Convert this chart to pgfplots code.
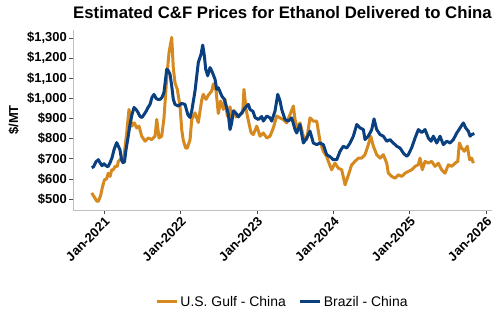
\documentclass[border=0pt]{standalone}
\usepackage{fontspec}
\setmainfont{Liberation Sans}
\usepackage{pgfplots}
\pgfplotsset{compat=1.18}
\definecolor{gulf}{RGB}{214,137,30}
\definecolor{brazil}{RGB}{10,63,128}
\begin{document}
\begin{tikzpicture}
\path[use as bounding box] (-73bp,-120bp) rectangle (427bp,210bp);
\begin{axis}[
  at={(0,0)}, anchor=south west,
  scale only axis, width=419bp, height=180bp,
  xmin=2020.594, xmax=2026.078, ymin=445, ymax=1340,
  axis x line*=bottom, axis y line*=left,
  axis line style={-, draw=black!25, line width=0.9bp},
  tick align=outside, major tick length=4bp,
  tick style={draw=black!70, line width=0.6bp},
  xtick={2021,2022,2023,2024,2025,2026},
  xticklabels={Jan-2021,Jan-2022,Jan-2023,Jan-2024,Jan-2025,Jan-2026},
  ytick={500,600,700,800,900,1000,1100,1200,1300},
  yticklabels={\$500,\$600,\$700,\$800,\$900,\$1{,}000,\$1{,}100,\$1{,}200,\$1{,}300},
  ticklabel style={font=\bfseries\fontsize{13}{15}\selectfont},
  xticklabel style={rotate=45, anchor=north east, inner sep=1.5bp},
  yticklabel style={inner sep=2bp},
  ylabel={\$/MT},
  ylabel style={at={(axis description cs:-0.141,0.5)}, anchor=center, font=\bfseries\fontsize{13}{15}\selectfont},
  title={Estimated C\&F Prices for Ethanol Delivered to China},
  title style={at={(axis description cs:0.5,1)}, anchor=center, yshift=12bp, font=\bfseries\fontsize{16.8}{18}\selectfont},
  legend style={at={(0.5,-0.511)}, anchor=center, draw=none, fill=none, legend columns=2,
    font=\fontsize{14}{16}\selectfont,
    /tikz/every even column/.append style={column sep=11bp}},
  legend image code/.code={\draw[#1] (0bp,0bp) -- (20bp,0bp);},
  line join=round,
]
\addplot[gulf, line width=3bp] coordinates {
(2020.839,530) (2020.863,515) (2020.904,490) (2020.925,488) (2020.954,515) (2020.980,560) (2021.006,595) (2021.033,600) (2021.056,628) (2021.079,612) (2021.101,645) (2021.122,645) (2021.144,662) (2021.174,662) (2021.187,687) (2021.232,703) (2021.253,703) (2021.266,728) (2021.297,828) (2021.327,945) (2021.363,862) (2021.397,878) (2021.428,853) (2021.458,862) (2021.493,812) (2021.537,787) (2021.580,803) (2021.624,795) (2021.668,812) (2021.690,895) (2021.720,803) (2021.755,812) (2021.785,903) (2021.821,1103) (2021.851,1228) (2021.886,1303) (2021.907,1150) (2021.929,1078) (2021.959,1045) (2021.995,962) (2022.017,845) (2022.038,790) (2022.069,753) (2022.090,753) (2022.126,795) (2022.148,895) (2022.191,928) (2022.234,880) (2022.278,990) (2022.299,1020) (2022.335,995) (2022.364,1015) (2022.410,1037) (2022.431,1072) (2022.466,1040) (2022.496,925) (2022.527,987) (2022.562,945) (2022.584,995) (2022.614,912) (2022.649,958) (2022.671,903) (2022.702,940) (2022.728,908) (2022.780,920) (2022.815,928) (2022.832,1045) (2022.859,945) (2022.889,890) (2022.924,830) (2022.954,820) (2022.999,862) (2023.042,812) (2023.085,828) (2023.130,803) (2023.173,812) (2023.216,853) (2023.260,912) (2023.304,903) (2023.347,895) (2023.391,878) (2023.435,920) (2023.478,962) (2023.500,895) (2023.522,853) (2023.565,878) (2023.609,812) (2023.653,795) (2023.696,903) (2023.740,887) (2023.784,887) (2023.827,787) (2023.870,737) (2023.915,710) (2023.936,687) (2023.958,665) (2023.979,645) (2024.022,678) (2024.067,653) (2024.111,645) (2024.155,570) (2024.199,620) (2024.242,670) (2024.285,687) (2024.329,703) (2024.373,703) (2024.416,720) (2024.459,770) (2024.491,812) (2024.525,762) (2024.569,720) (2024.613,703) (2024.656,720) (2024.700,678) (2024.721,628) (2024.766,612) (2024.809,603) (2024.852,620) (2024.896,612) (2024.940,628) (2024.983,637) (2025.027,645) (2025.071,662) (2025.114,670) (2025.136,703) (2025.166,645) (2025.202,687) (2025.245,678) (2025.289,687) (2025.332,662) (2025.376,678) (2025.419,645) (2025.463,628) (2025.507,670) (2025.551,662) (2025.595,678) (2025.630,687) (2025.651,778) (2025.681,753) (2025.716,737) (2025.755,762) (2025.785,695) (2025.812,703) (2025.834,678)
};
\addlegendentry{U.S. Gulf - China}
\addplot[brazil, line width=3bp] coordinates {
(2020.839,655) (2020.863,660) (2020.895,685) (2020.925,695) (2020.948,680) (2020.974,665) (2021.000,675) (2021.026,665) (2021.052,660) (2021.079,680) (2021.105,705) (2021.131,745) (2021.166,780) (2021.190,760) (2021.209,745) (2021.229,695) (2021.249,680) (2021.268,685) (2021.288,745) (2021.314,805) (2021.340,870) (2021.366,920) (2021.393,955) (2021.419,945) (2021.445,930) (2021.471,910) (2021.497,905) (2021.524,920) (2021.550,935) (2021.576,955) (2021.602,970) (2021.628,1005) (2021.654,1020) (2021.681,1000) (2021.707,995) (2021.733,995) (2021.759,1005) (2021.785,1030) (2021.805,1095) (2021.821,1145) (2021.838,1140) (2021.864,1120) (2021.886,1062) (2021.907,995) (2021.929,970) (2021.972,962) (2022.017,975) (2022.060,970) (2022.096,920) (2022.126,905) (2022.148,937) (2022.191,1037) (2022.234,1178) (2022.270,1220) (2022.292,1265) (2022.313,1212) (2022.331,1145) (2022.357,1112) (2022.387,1153) (2022.410,1137) (2022.453,1095) (2022.475,1045) (2022.496,1053) (2022.541,1012) (2022.575,995) (2022.606,953) (2022.627,920) (2022.649,845) (2022.671,878) (2022.692,937) (2022.724,928) (2022.758,908) (2022.802,928) (2022.846,953) (2022.889,970) (2022.911,945) (2022.950,935) (2022.976,905) (2023.020,895) (2023.064,910) (2023.085,887) (2023.130,912) (2023.173,903) (2023.195,887) (2023.238,937) (2023.274,1020) (2023.304,987) (2023.326,945) (2023.369,895) (2023.412,887) (2023.457,903) (2023.500,845) (2023.522,828) (2023.565,870) (2023.609,778) (2023.653,803) (2023.696,837) (2023.740,778) (2023.784,770) (2023.827,778) (2023.870,770) (2023.915,720) (2023.958,710) (2024.001,695) (2024.046,695) (2024.089,737) (2024.132,762) (2024.177,753) (2024.220,778) (2024.263,812) (2024.308,870) (2024.351,853) (2024.394,845) (2024.416,795) (2024.459,812) (2024.504,845) (2024.534,898) (2024.569,845) (2024.613,820) (2024.656,812) (2024.700,787) (2024.743,795) (2024.787,778) (2024.831,762) (2024.874,753) (2024.918,728) (2024.962,712) (2024.983,720) (2025.027,755) (2025.071,803) (2025.114,845) (2025.158,830) (2025.202,845) (2025.245,803) (2025.280,787) (2025.310,812) (2025.355,778) (2025.398,812) (2025.441,770) (2025.486,787) (2025.529,778) (2025.572,795) (2025.617,828) (2025.660,853) (2025.703,878) (2025.734,853) (2025.768,837) (2025.791,812) (2025.812,820) (2025.847,825)
};
\addlegendentry{Brazil - China}
\end{axis}
\end{tikzpicture}
\end{document}
